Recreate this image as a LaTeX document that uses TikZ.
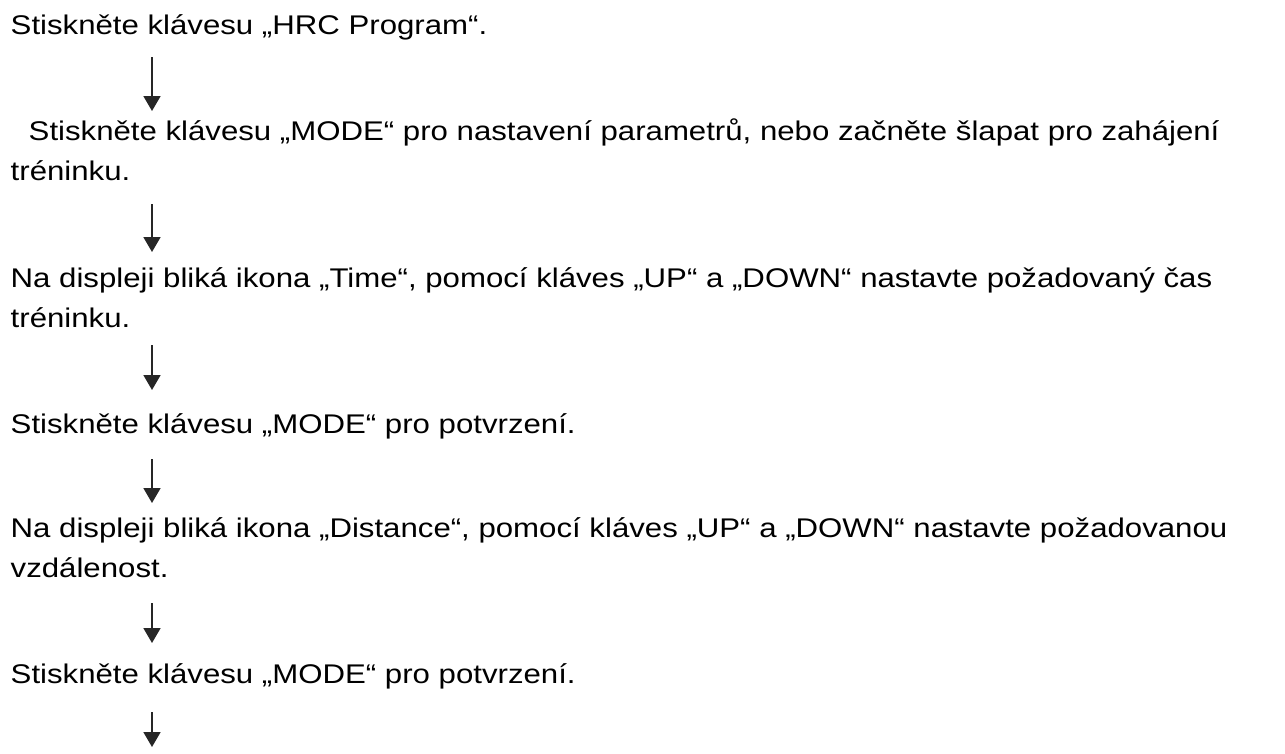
\documentclass[tikz,border=0pt]{standalone}
\usepackage{fontspec}
\setmainfont{Liberation Sans}[FakeStretch=1.155]
\usetikzlibrary{arrows.meta}
\begin{document}
\begin{tikzpicture}[x=1pt,y=-1pt,
  steptext/.style={anchor=base west, inner sep=0pt, font=\fontsize{27}{40}\selectfont, text=black},
  flowarrow/.style={draw=black!85, line width=1.9pt, -{Triangle[length=15pt,width=17pt]}}]
\useasboundingbox (0,0) rectangle (1285,753);
\node[steptext] (s1) at (10.5,34) {Stiskněte klávesu „HRC Program“.};
\node[steptext] (s2) at (10.5,140) {\parbox[t]{1270pt}{\raggedright\hspace*{18pt}Stiskněte klávesu „MODE“ pro nastavení parametrů, nebo začněte šlapat pro zahájení\\tréninku.}};
\node[steptext] (s3) at (10.5,287) {\parbox[t]{1270pt}{\raggedright Na displeji bliká ikona „Time“, pomocí kláves „UP“ a „DOWN“ nastavte požadovaný čas\\tréninku.}};
\node[steptext] (s4) at (10.5,433) {Stiskněte klávesu „MODE“ pro potvrzení.};
\node[steptext] (s5) at (10.5,537) {\parbox[t]{1270pt}{\raggedright Na displeji bliká ikona „Distance“, pomocí kláves „UP“ a „DOWN“ nastavte požadovanou\\vzdálenost.}};
\node[steptext] (s6) at (10.5,683) {Stiskněte klávesu „MODE“ pro potvrzení.};
\coordinate (a1t) at (152,57);  \coordinate (a1h) at (152,111);
\coordinate (a2t) at (152,204); \coordinate (a2h) at (152,252);
\coordinate (a3t) at (152,345); \coordinate (a3h) at (152,390);
\coordinate (a4t) at (152,459); \coordinate (a4h) at (152,503);
\coordinate (a5t) at (152,603); \coordinate (a5h) at (152,643);
\coordinate (a6t) at (152,712); \coordinate (a6h) at (152,747);
\draw[flowarrow] (a1t) -- (a1h);
\draw[flowarrow] (a2t) -- (a2h);
\draw[flowarrow] (a3t) -- (a3h);
\draw[flowarrow] (a4t) -- (a4h);
\draw[flowarrow] (a5t) -- (a5h);
\draw[flowarrow] (a6t) -- (a6h);
\end{tikzpicture}
\end{document}
